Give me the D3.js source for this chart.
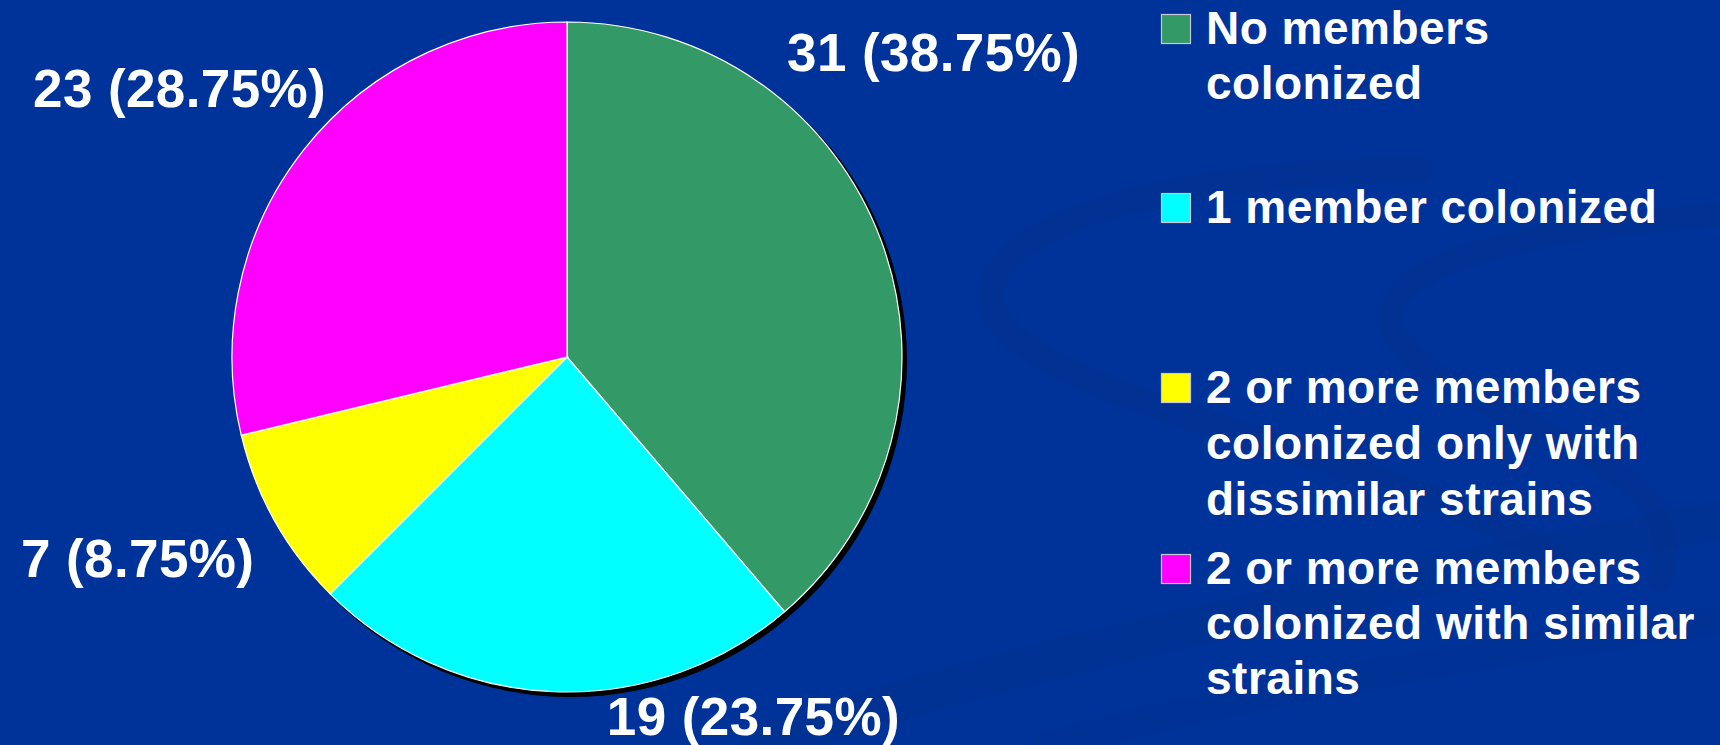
<!DOCTYPE html>
<html>
<head>
<meta charset="utf-8">
<script src="https://cdn.jsdelivr.net/npm/d3@7/dist/d3.min.js"></script>
<style>
  html, body { margin: 0; padding: 0; background: #003399; }
  svg { display: block; }
  text { font-family: "Liberation Sans", Arial, sans-serif; font-weight: bold; fill: #ffffff; }
</style>
</head>
<body>
<svg id="chart" width="1720" height="745"></svg>
<script>
// ---- data ----
const categories = [
  "No members colonized",
  "1 member colonized",
  "2 or more members colonized only with dissimilar strains",
  "2 or more members colonized with similar strains"
];
const legendLines = [
  ["No members", "colonized"],
  ["1 member colonized"],
  ["2 or more members", "colonized only with", "dissimilar strains"],
  ["2 or more members", "colonized with similar", "strains"]
];
const values = [31, 19, 7, 23];
const percentLabels = ["38.75%", "23.75%", "8.75%", "28.75%"];
const colors = ["#339966", "#00FFFF", "#FFFF00", "#FF00FF"];

// ---- layout ----
const W = 1720, H = 745;
const cx = 567, cy = 357, R = 335;
const svg = d3.select("#chart");

svg.append("rect").attr("width", W).attr("height", H).attr("fill", "#003399");

// subtle background swooshes
const deco = svg.append("g").attr("fill", "none").attr("stroke", "#00308f").attr("stroke-linecap", "round");
deco.append("path")
  .attr("d", "M1420,170 C1200,170 1010,215 992,285 C975,345 1100,390 1260,440 C1380,478 1500,520 1560,560")
  .attr("stroke-width", 26).attr("opacity", 0.6);
deco.append("path")
  .attr("d", "M1720,215 C1560,225 1420,255 1395,300 C1370,345 1450,390 1560,440 C1640,478 1680,520 1660,580")
  .attr("stroke-width", 24).attr("opacity", 0.6);
deco.append("path")
  .attr("d", "M760,745 C1000,660 1350,590 1720,520")
  .attr("stroke-width", 40).attr("opacity", 0.45);
deco.append("path")
  .attr("d", "M1050,745 C1250,690 1500,650 1720,620")
  .attr("stroke-width", 30).attr("opacity", 0.4);

// pie
const pie = d3.pie().sort(null).value(d => d)(values);
const arc = d3.arc().innerRadius(0).outerRadius(R);
const g = svg.append("g").attr("transform", `translate(${cx},${cy})`);

// drop shadow
g.append("circle").attr("cx", 4).attr("cy", 4).attr("r", R + 1).attr("fill", "#000000");

g.selectAll("path.slice")
  .data(pie)
  .join("path")
  .attr("class", "slice")
  .attr("d", arc)
  .attr("fill", (d, i) => colors[i])
  .attr("stroke", "#ffffff")
  .attr("stroke-width", 1.2);

// slice labels (placed outside, anchored as in reference)
const labelPos = [
  { x: 787, y: 71, anchor: "start" },
  { x: 900, y: 735, anchor: "end" },
  { x: 21, y: 577, anchor: "start" },
  { x: 33, y: 107, anchor: "start" }
];
svg.selectAll("text.plabel")
  .data(pie)
  .join("text")
  .attr("class", "plabel")
  .attr("x", (d, i) => labelPos[i].x)
  .attr("y", (d, i) => labelPos[i].y)
  .attr("text-anchor", (d, i) => labelPos[i].anchor)
  .attr("font-size", 53)
  .attr("letter-spacing", 0.4)
  .text((d, i) => `${values[i]} (${percentLabels[i]})`);

// legend
const legendBaselines = [[44, 99], [223], [403, 459, 515], [584, 639, 694]];
const lg = svg.append("g");
categories.forEach((c, i) => {
  const b0 = legendBaselines[i][0];
  lg.append("rect")
    .attr("x", 1161.5).attr("y", b0 - 29.5)
    .attr("width", 29).attr("height", 29)
    .attr("fill", colors[i])
    .attr("stroke", "#c8c8d8").attr("stroke-width", 1.2);
  legendLines[i].forEach((line, j) => {
    lg.append("text")
      .attr("x", 1206).attr("y", legendBaselines[i][j])
      .attr("font-size", 46)
      .attr("letter-spacing", 0.5)
      .text(line);
  });
});
</script>
</body>
</html>
